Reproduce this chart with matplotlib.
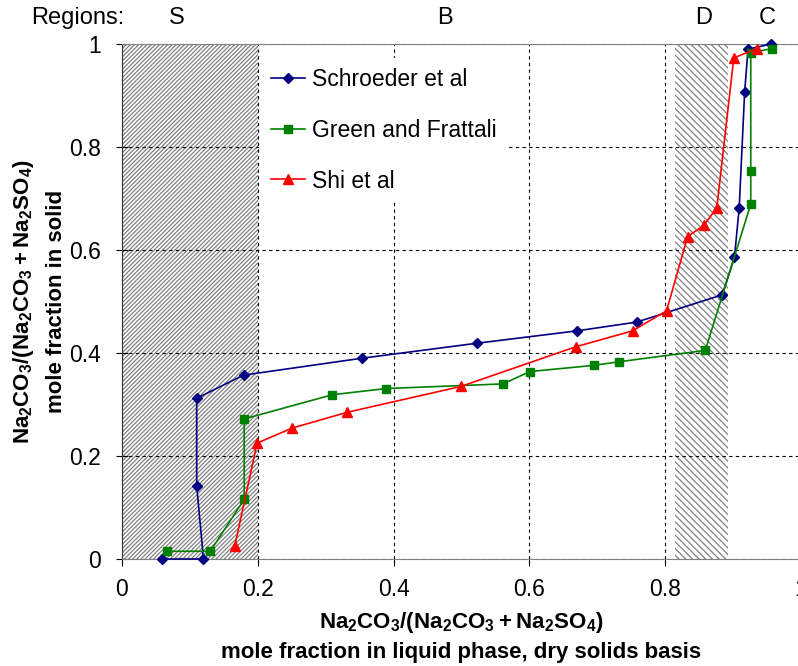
import matplotlib
matplotlib.use("Agg")
from matplotlib import pyplot as plt
from matplotlib import transforms

plt.rcParams['font.family'] = ['Liberation Sans', 'DejaVu Sans']
plt.rcParams['mathtext.fontset'] = 'custom'
plt.rcParams['mathtext.rm'] = 'Liberation Sans'
plt.rcParams['mathtext.bf'] = 'Liberation Sans:bold'
plt.rcParams['hatch.linewidth'] = 0.9

# data
schroeder_x = [0.059, 0.120, 0.110, 0.110, 0.179, 0.354, 0.523, 0.670, 0.758,
               0.884, 0.902, 0.909, 0.917, 0.922, 0.956]
schroeder_y = [0.0, 0.0, 0.142, 0.312, 0.357, 0.390, 0.419, 0.443, 0.460,
               0.513, 0.586, 0.682, 0.907, 0.990, 1.0]

green_x = [0.066, 0.130, 0.180, 0.180, 0.310, 0.389, 0.561, 0.601, 0.695,
           0.732, 0.859, 0.926, 0.926, 0.926, 0.957]
green_y = [0.015, 0.015, 0.116, 0.272, 0.319, 0.331, 0.340, 0.364, 0.376,
           0.383, 0.405, 0.689, 0.753, 0.983, 0.991]

shi_x = [0.166, 0.199, 0.250, 0.332, 0.499, 0.668, 0.752, 0.802, 0.833,
         0.857, 0.876, 0.901, 0.935]
shi_y = [0.025, 0.225, 0.254, 0.285, 0.335, 0.412, 0.443, 0.482, 0.626,
         0.648, 0.682, 0.973, 0.991]

region_names = ['S', 'B', 'D', 'C']
region_pos = [0.08, 0.476, 0.856, 0.951]
hatch_s = (0.0, 0.2)
hatch_d = (0.815, 0.893)
ticks = [0, 0.2, 0.4, 0.6, 0.8, 1.0]
tick_labels = ['0', '0.2', '0.4', '0.6', '0.8', '1']

fig = plt.figure(figsize=(7.98, 6.66), dpi=100)
ax = fig.add_axes([122 / 798, 107 / 666, 679 / 798, 515 / 666])

ax.axvspan(*hatch_s, facecolor='white', edgecolor='#808080', hatch='////////', linewidth=0, zorder=1)
ax.axvspan(*hatch_d, facecolor='white', edgecolor='#808080', hatch='\\\\\\\\\\', linewidth=0, zorder=1)

ax.plot(schroeder_x, schroeder_y, color='#000080', marker='D', ms=5, lw=1.2,
        label='Schroeder et al', clip_on=False, zorder=4)
ax.plot(green_x, green_y, color='#008000', marker='s', ms=6, lw=1.2,
        label='Green and Frattali', clip_on=False, zorder=4)
ax.plot(shi_x, shi_y, color='#ff0000', marker='^', ms=7.5, lw=1.2,
        label='Shi et al', clip_on=False, zorder=4)

ax.set_xlim(0, 1)
ax.set_ylim(0, 1)
ax.set_xticks(ticks)
ax.set_xticklabels(tick_labels)
ax.set_yticks(ticks)
ax.set_yticklabels(tick_labels)
ax.tick_params(axis='x', direction='out', length=5, pad=9, labelsize=16.5)
ax.tick_params(axis='y', direction='inout', length=8, pad=11, labelsize=16.5)
ax.grid(True, color='black', linestyle=(0, (3, 3)), linewidth=0.8)

for side in ['top', 'bottom', 'right']:
    ax.spines[side].set_color('#808080')
ax.spines['left'].set_color('#303030')

ax.set_xlabel('$\\mathbf{Na_2CO_3/(Na_2CO_3 + Na_2SO_4)}$\n'
              'mole fraction in liquid phase, dry solids basis',
              fontsize=16, fontweight='bold', labelpad=6, linespacing=1.45)
ax.set_ylabel('$\\mathbf{Na_2CO_3/(Na_2CO_3 + Na_2SO_4)}$\n'
              'mole fraction in solid',
              fontsize=16, fontweight='bold', labelpad=2, linespacing=1.6)

leg = ax.legend(loc='upper left', bbox_to_anchor=(0.206, 0.972), borderaxespad=0,
                fontsize=16.5, handlelength=1.5, handletextpad=0.3, labelspacing=1.22,
                fancybox=False, framealpha=1, borderpad=0.4)
leg.get_frame().set_linewidth(0)
leg.set_zorder(5)

trans = transforms.blended_transform_factory(ax.transData, ax.transAxes)
ax.text(0.004, 1.05, 'Regions:', transform=trans, ha='right', va='center', fontsize=17)
for name, xpos in zip(region_names, region_pos):
    ax.text(xpos, 1.05, name, transform=trans, ha='center', va='center', fontsize=17)

fig.savefig('out.png', dpi=100)
